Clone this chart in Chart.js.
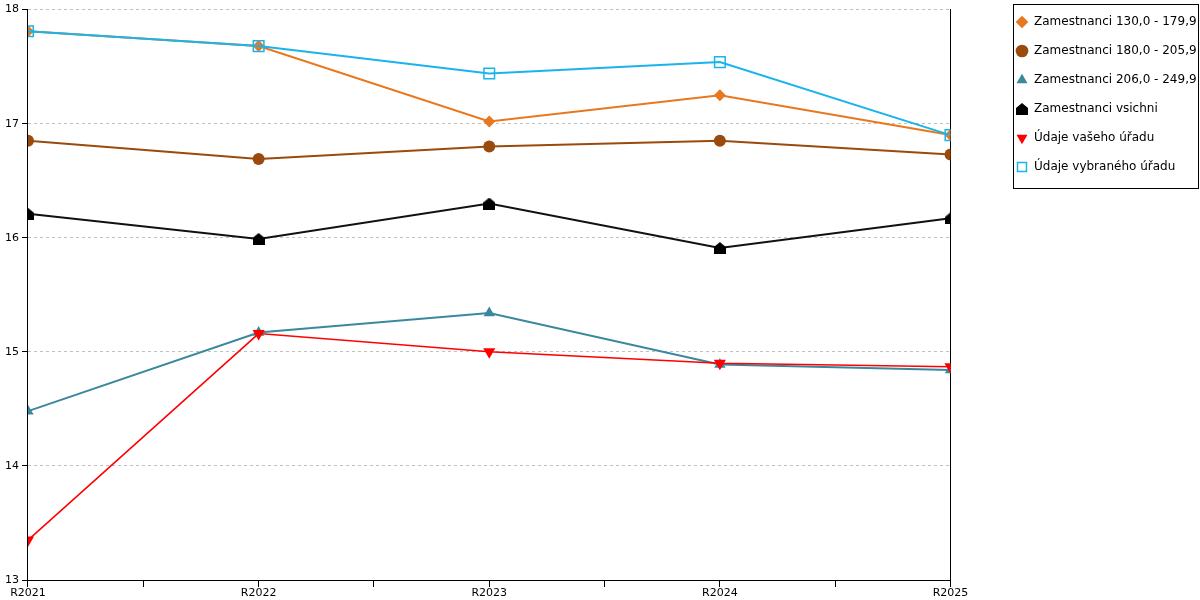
<!DOCTYPE html>
<html>
<head>
<meta charset="utf-8">
<script src="https://cdn.jsdelivr.net/npm/chart.js@4/dist/chart.umd.min.js"></script>
<style>
  html, body { margin: 0; padding: 0; background: #fff; }
  #wrap { width: 1200px; height: 600px; }
</style>
</head>
<body>
<div id="wrap"><canvas id="chart"></canvas></div>
<script>
const years = ['R2021', 'R2022', 'R2023', 'R2024', 'R2025'];
const zam130 = [17.81, 17.68, 17.02, 17.25, 16.90];
const zam180 = [16.85, 16.69, 16.80, 16.85, 16.73];
const zam206 = [14.48, 15.17, 15.34, 14.89, 14.84];
const zamVsichni = [16.21, 15.99, 16.30, 15.91, 16.17];
const vasUrad = [13.35, 15.16, 15.00, 14.90, 14.87];
const vybranyUrad = [17.81, 17.68, 17.44, 17.54, 16.90];
const yTicks = [13, 14, 15, 16, 17, 18];

// black "house" marker
function houseMarker() {
  const c = document.createElement('canvas');
  c.width = 12; c.height = 12;
  const g = c.getContext('2d');
  g.fillStyle = '#000';
  g.beginPath();
  g.moveTo(6, 0); g.lineTo(12, 5); g.lineTo(12, 12); g.lineTo(0, 12); g.lineTo(0, 5);
  g.closePath(); g.fill();
  return c;
}

function toPoints(arr) {
  return arr.map((v, i) => ({ x: i, y: v }));
}

function series(label, values, color, style, extra) {
  return Object.assign({
    label: label,
    data: toPoints(values),
    borderColor: color,
    backgroundColor: color,
    pointBackgroundColor: color,
    pointBorderColor: color,
    pointBorderWidth: 0,
    borderWidth: 2,
    pointStyle: style,
    pointRadius: 6,
    pointHoverRadius: 6,
    tension: 0
  }, extra || {});
}

// nudge legend into place and draw its frame
const legendBox = {
  id: 'legendBox',
  afterLayout(chart) {
    const l = chart.legend;
    const dy = -4, dx = 999 - l.left;
    l.top += dy; l.bottom += dy;
    l.left += dx; l.right += dx;
  },
  afterDraw(chart) {
    const hb = chart.legend.legendHitBoxes;
    if (!hb || !hb.length) return;
    const first = hb[0], last = hb[hb.length - 1];
    const x0 = Math.round(first.left) - 3;
    const y0 = Math.round(first.top) - 12;
    const y1 = Math.round(last.top + last.height) + 15;
    const x1 = chart.width - 1;
    const ctx = chart.ctx;
    ctx.save();
    ctx.strokeStyle = '#000';
    ctx.lineWidth = 1;
    ctx.strokeRect(x0 + 0.5, y0 + 0.5, x1 - x0 - 1, y1 - y0);
    ctx.restore();
  }
};

Chart.defaults.font.family = "'DejaVu Sans', Verdana, sans-serif";
Chart.defaults.font.size = 12;
Chart.defaults.color = '#000';

const ctx = document.getElementById('chart').getContext('2d');
new Chart(ctx, {
  type: 'line',
  data: {
    datasets: [
      series('Zamestnanci 130,0 - 179,9', zam130, '#E8771E', 'rectRot', { order: 6 }),
      series('Zamestnanci 180,0 - 205,9', zam180, '#9A4A0C', 'circle', { order: 5 }),
      series('Zamestnanci 206,0 - 249,9', zam206, '#3A889E', 'triangle', { order: 4, pointRadius: 6.5 }),
      series('Zamestnanci vsichni', zamVsichni, '#111111', houseMarker(), { order: 3 }),
      series('Údaje vašeho úřadu', vasUrad, '#FF0000', 'triangle', { order: 2, pointRadius: 7, pointRotation: 180, borderWidth: 1.5 }),
      series('Údaje vybraného úřadu', vybranyUrad, '#1AB4EA', 'rect', { order: 1, pointRadius: 7.5, pointBackgroundColor: 'rgba(255,255,255,0)', pointBorderWidth: 1.5, backgroundColor: 'rgba(255,255,255,0)' })
    ]
  },
  options: {
    responsive: true,
    maintainAspectRatio: false,
    animation: false,
    layout: { padding: { top: 3, left: 2, right: 1, bottom: 0 } },
    plugins: {
      legend: {
        position: 'right',
        align: 'start',
        labels: {
          usePointStyle: true,
          boxHeight: 9,
          padding: 17,
          sort: (a, b) => a.datasetIndex - b.datasetIndex
        }
      },
      tooltip: { enabled: false }
    },
    scales: {
      x: {
        type: 'linear',
        min: 0,
        max: years.length - 1,
        ticks: {
          stepSize: 0.5,
          autoSkip: false,
          maxRotation: 0,
          padding: 1,
          font: { size: 11, lineHeight: 1 },
          callback: v => Number.isInteger(v) ? years[v] : ''
        },
        grid: { drawOnChartArea: false, tickLength: 7, tickColor: '#000' },
        border: { color: '#000', width: 1 }
      },
      y: {
        min: yTicks[0],
        max: yTicks[yTicks.length - 1],
        afterBuildTicks: axis => { axis.ticks = yTicks.map(v => ({ value: v })); },
        ticks: { padding: 3, font: { size: 11 } },
        grid: { color: '#c0c0c0', tickLength: 6, tickColor: '#000' },
        border: { color: '#000', width: 1, dash: [3, 3] }
      },
      y2: {
        position: 'right',
        axis: 'y',
        ticks: { display: false },
        grid: { display: false, drawTicks: false },
        border: { color: '#000', width: 1 },
        afterFit: axis => { axis.width = 49; }
      }
    }
  },
  plugins: [legendBox]
});
</script>
</body>
</html>
